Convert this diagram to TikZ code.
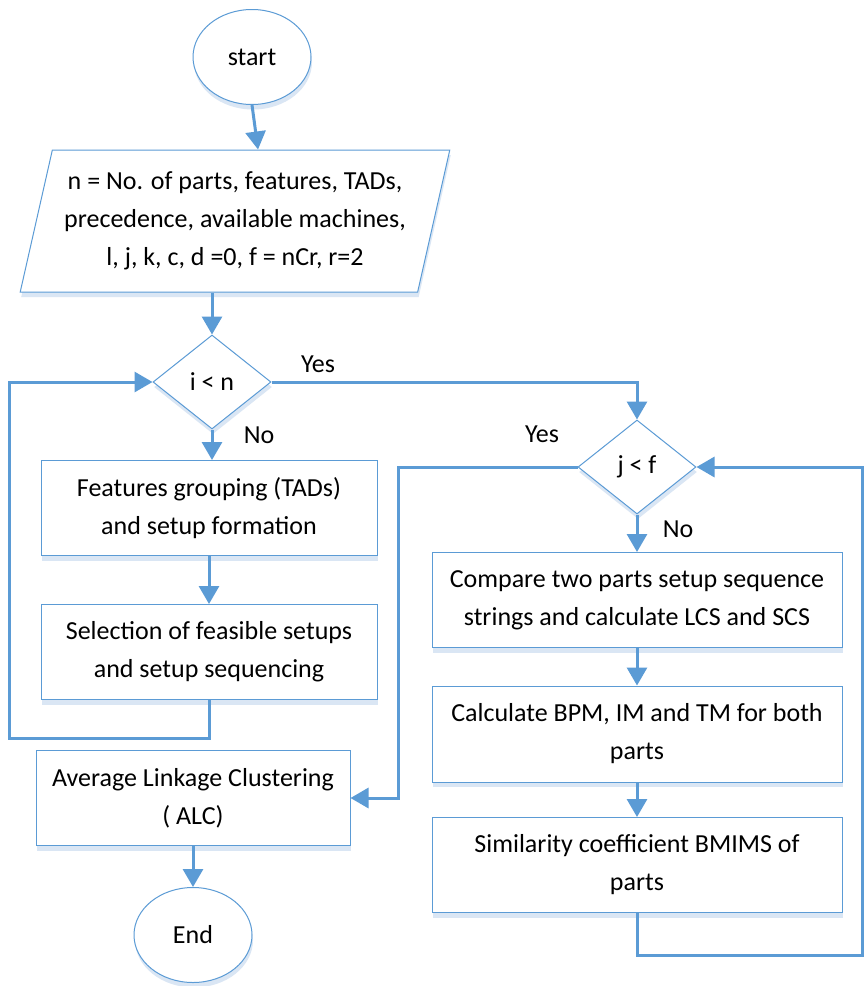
\documentclass[tikz,border=0pt]{standalone}
\usepackage{fontspec}
\setmainfont{Carlito}
\usetikzlibrary{arrows.meta,shapes.geometric,shadows,calc}
\definecolor{ob}{HTML}{5B9BD5}
\definecolor{shd}{HTML}{DAE6F4}
\begin{document}
\begin{tikzpicture}[x=1pt,y=-1pt,
  every node/.style={font=\fontsize{26}{38}\selectfont},
  base/.style={draw=ob, line width=1pt, fill=white, align=center, inner sep=0pt,
    drop shadow={shadow xshift=1pt, shadow yshift=-5pt, fill=shd, opacity=1}},
  term/.style={base, ellipse, minimum width=118pt, minimum height=95pt},
  procbox/.style={base, rectangle, minimum height=95pt},
  decide/.style={base, diamond, minimum width=118pt, minimum height=94pt},
  iobox/.style={base, trapezium, trapezium left angle=73, trapezium right angle=107,
    trapezium stretches=true, minimum width=430pt, minimum height=142pt},
  lbl/.style={inner sep=0pt},
  conn/.style={draw=ob, line width=3pt, -{Triangle[length=18pt,width=20pt]}},
  plainline/.style={draw=ob, line width=3pt}]
\useasboundingbox[fill=white] (0,0) rectangle (865,986);

\node[term] (start) at (252,57) {start};
\node[iobox] (para) at (235,221) {n = No. of parts, features, TADs,\\precedence, available machines,\\l, j, k, c, d =0, f = nCr, r=2};
\node[decide] (d1) at (212,382) {i < n};
\node[procbox, minimum width=336pt] (b1) at (209,508) {Features grouping (TADs)\\and setup formation};
\node[procbox, minimum width=336pt] (b2) at (209,652) {Selection of feasible setups\\and setup sequencing};
\node[procbox, minimum width=314pt] (alc) at (193,798) {Average Linkage Clustering\\( ALC)};
\node[term] (end) at (193,935) {End};
\node[decide] (d2) at (637,467) {j < f};
\node[procbox, minimum width=410pt] (b3) at (637,600) {Compare two parts setup sequence\\strings and calculate LCS and SCS};
\node[procbox, minimum width=410pt, minimum height=96pt] (b4) at (637,734) {Calculate BPM, IM and TM for both\\parts};
\node[procbox, minimum width=410pt] (b5) at (637,865) {Similarity coefficient BMIMS of\\parts};

\node[lbl] (yes1) at (318,364) {Yes};
\node[lbl] (no1) at (259,435) {No};
\node[lbl] (yes2) at (542,434) {Yes};
\node[lbl] (no2) at (678,529) {No};

\coordinate (loopL) at (9,738);
\coordinate (yesX) at (398,467);
\coordinate (loopR) at (862,955);

\draw[conn] (start.south) -- ([xshift=23pt]para.north);
\draw[conn] (d1.north |- para.south) -- (d1.north);
\draw[conn] (d1.south) -- (d1.south |- b1.north);
\draw[conn] (b1.south) -- (b2.north);
\draw[conn] (b2.south) |- (loopL) |- (d1.west);
\draw[conn] (d1.east) -| (d2.north);
\draw[conn] (d2.west) -- (yesX) |- (alc.east);
\draw[conn] (d2.south) -- (b3.north);
\draw[conn] (b3.south) -- (b4.north);
\draw[conn] (b4.south) -- (b5.north);
\draw[conn] (b5.south) |- (loopR) |- (d2.east);
\draw[conn] (alc.south) -- (end.north);
\end{tikzpicture}
\end{document}
